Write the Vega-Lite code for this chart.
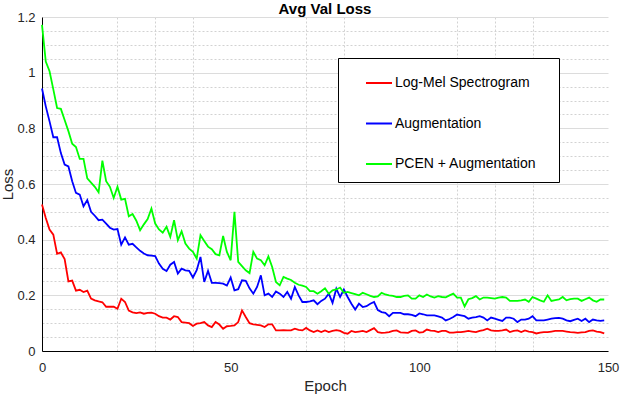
{
  "$schema": "https://vega.github.io/schema/vega-lite/v6.json",
  "width": 566,
  "height": 334,
  "autosize": {"type": "none"},
  "padding": {"left": 42, "top": 17, "right": 12, "bottom": 43},
  "background": "white",
  "config": {"view": {"stroke": null}, "font": "Liberation Sans"},
  "title": {"text": "Avg Val Loss", "font": "Liberation Sans", "fontSize": 15, "fontWeight": "bold", "color": "black", "baseline": "alphabetic", "offset": -17.5, "anchor": "middle", "frame": "group"},
  "data": {"values": [
    {"epoch":0,"r":0.526,"b":0.943,"g":1.172},
    {"epoch":1,"r":0.478,"b":0.879,"g":1.04},
    {"epoch":2,"r":0.436,"b":0.825,"g":1.005},
    {"epoch":3,"r":0.418,"b":0.768,"g":0.94},
    {"epoch":4,"r":0.349,"b":0.768,"g":0.873},
    {"epoch":5,"r":0.354,"b":0.711,"g":0.87},
    {"epoch":6,"r":0.33,"b":0.67,"g":0.83},
    {"epoch":7,"r":0.25,"b":0.663,"g":0.79},
    {"epoch":8,"r":0.253,"b":0.61,"g":0.745},
    {"epoch":9,"r":0.217,"b":0.568,"g":0.733},
    {"epoch":10,"r":0.22,"b":0.562,"g":0.69},
    {"epoch":11,"r":0.212,"b":0.52,"g":0.69},
    {"epoch":12,"r":0.217,"b":0.542,"g":0.62},
    {"epoch":13,"r":0.188,"b":0.5,"g":0.605},
    {"epoch":14,"r":0.182,"b":0.486,"g":0.59},
    {"epoch":15,"r":0.178,"b":0.47,"g":0.57},
    {"epoch":16,"r":0.175,"b":0.472,"g":0.684},
    {"epoch":17,"r":0.159,"b":0.458,"g":0.61},
    {"epoch":18,"r":0.159,"b":0.443,"g":0.59},
    {"epoch":19,"r":0.159,"b":0.436,"g":0.55},
    {"epoch":20,"r":0.152,"b":0.438,"g":0.59},
    {"epoch":21,"r":0.188,"b":0.382,"g":0.544},
    {"epoch":22,"r":0.176,"b":0.408,"g":0.547},
    {"epoch":23,"r":0.145,"b":0.382,"g":0.484},
    {"epoch":24,"r":0.139,"b":0.385,"g":0.492},
    {"epoch":25,"r":0.136,"b":0.372,"g":0.468},
    {"epoch":26,"r":0.139,"b":0.36,"g":0.434},
    {"epoch":27,"r":0.134,"b":0.35,"g":0.455},
    {"epoch":28,"r":0.137,"b":0.344,"g":0.474},
    {"epoch":29,"r":0.138,"b":0.343,"g":0.512},
    {"epoch":30,"r":0.134,"b":0.341,"g":0.458},
    {"epoch":31,"r":0.125,"b":0.314,"g":0.437},
    {"epoch":32,"r":0.12,"b":0.295,"g":0.425},
    {"epoch":33,"r":0.12,"b":0.287,"g":0.446},
    {"epoch":34,"r":0.113,"b":0.31,"g":0.41},
    {"epoch":35,"r":0.125,"b":0.32,"g":0.47},
    {"epoch":36,"r":0.122,"b":0.278,"g":0.398},
    {"epoch":37,"r":0.104,"b":0.296,"g":0.43},
    {"epoch":38,"r":0.102,"b":0.29,"g":0.386},
    {"epoch":39,"r":0.1,"b":0.288,"g":0.368},
    {"epoch":40,"r":0.09,"b":0.264,"g":0.356},
    {"epoch":41,"r":0.098,"b":0.29,"g":0.332},
    {"epoch":42,"r":0.1,"b":0.338,"g":0.416},
    {"epoch":43,"r":0.104,"b":0.248,"g":0.395},
    {"epoch":44,"r":0.092,"b":0.288,"g":0.375},
    {"epoch":45,"r":0.086,"b":0.245,"g":0.366},
    {"epoch":46,"r":0.104,"b":0.245,"g":0.348},
    {"epoch":47,"r":0.095,"b":0.244,"g":0.344},
    {"epoch":48,"r":0.08,"b":0.242,"g":0.413},
    {"epoch":49,"r":0.089,"b":0.235,"g":0.356},
    {"epoch":50,"r":0.09,"b":0.264,"g":0.326},
    {"epoch":51,"r":0.092,"b":0.218,"g":0.5},
    {"epoch":52,"r":0.104,"b":0.222,"g":0.32},
    {"epoch":53,"r":0.146,"b":0.254,"g":0.305},
    {"epoch":54,"r":0.122,"b":0.252,"g":0.29},
    {"epoch":55,"r":0.1,"b":0.225,"g":0.28},
    {"epoch":56,"r":0.096,"b":0.206,"g":0.356},
    {"epoch":57,"r":0.094,"b":0.23,"g":0.332},
    {"epoch":58,"r":0.092,"b":0.272,"g":0.326},
    {"epoch":59,"r":0.086,"b":0.2,"g":0.308},
    {"epoch":60,"r":0.096,"b":0.206,"g":0.34},
    {"epoch":61,"r":0.096,"b":0.194,"g":0.302},
    {"epoch":62,"r":0.074,"b":0.214,"g":0.248},
    {"epoch":63,"r":0.074,"b":0.206,"g":0.236},
    {"epoch":64,"r":0.075,"b":0.194,"g":0.266},
    {"epoch":65,"r":0.074,"b":0.212,"g":0.26},
    {"epoch":66,"r":0.074,"b":0.188,"g":0.255},
    {"epoch":67,"r":0.08,"b":0.23,"g":0.245},
    {"epoch":68,"r":0.076,"b":0.2,"g":0.238},
    {"epoch":69,"r":0.074,"b":0.176,"g":0.235},
    {"epoch":70,"r":0.083,"b":0.176,"g":0.23},
    {"epoch":71,"r":0.074,"b":0.178,"g":0.215},
    {"epoch":72,"r":0.068,"b":0.182,"g":0.215},
    {"epoch":73,"r":0.074,"b":0.168,"g":0.206},
    {"epoch":74,"r":0.068,"b":0.18,"g":0.215},
    {"epoch":75,"r":0.074,"b":0.188,"g":0.225},
    {"epoch":76,"r":0.068,"b":0.206,"g":0.206},
    {"epoch":77,"r":0.072,"b":0.173,"g":0.218},
    {"epoch":78,"r":0.075,"b":0.224,"g":0.221},
    {"epoch":79,"r":0.072,"b":0.194,"g":0.228},
    {"epoch":80,"r":0.065,"b":0.221,"g":0.209},
    {"epoch":81,"r":0.062,"b":0.194,"g":0.212},
    {"epoch":82,"r":0.072,"b":0.17,"g":0.208},
    {"epoch":83,"r":0.068,"b":0.149,"g":0.204},
    {"epoch":84,"r":0.07,"b":0.17,"g":0.2},
    {"epoch":85,"r":0.072,"b":0.158,"g":0.209},
    {"epoch":86,"r":0.068,"b":0.161,"g":0.204},
    {"epoch":87,"r":0.075,"b":0.17,"g":0.198},
    {"epoch":88,"r":0.082,"b":0.176,"g":0.194},
    {"epoch":89,"r":0.068,"b":0.147,"g":0.196},
    {"epoch":90,"r":0.065,"b":0.14,"g":0.209},
    {"epoch":91,"r":0.066,"b":0.137,"g":0.203},
    {"epoch":92,"r":0.068,"b":0.125,"g":0.2},
    {"epoch":93,"r":0.072,"b":0.137,"g":0.198},
    {"epoch":94,"r":0.074,"b":0.137,"g":0.194},
    {"epoch":95,"r":0.067,"b":0.137,"g":0.194},
    {"epoch":96,"r":0.066,"b":0.132,"g":0.198},
    {"epoch":97,"r":0.065,"b":0.132,"g":0.2},
    {"epoch":98,"r":0.072,"b":0.13,"g":0.188},
    {"epoch":99,"r":0.074,"b":0.125,"g":0.188},
    {"epoch":100,"r":0.066,"b":0.135,"g":0.2},
    {"epoch":101,"r":0.068,"b":0.132,"g":0.194},
    {"epoch":102,"r":0.077,"b":0.128,"g":0.203},
    {"epoch":103,"r":0.073,"b":0.128,"g":0.196},
    {"epoch":104,"r":0.072,"b":0.128,"g":0.192},
    {"epoch":105,"r":0.068,"b":0.124,"g":0.197},
    {"epoch":106,"r":0.072,"b":0.12,"g":0.194},
    {"epoch":107,"r":0.072,"b":0.11,"g":0.193},
    {"epoch":108,"r":0.066,"b":0.115,"g":0.2},
    {"epoch":109,"r":0.066,"b":0.122,"g":0.206},
    {"epoch":110,"r":0.068,"b":0.131,"g":0.192},
    {"epoch":111,"r":0.068,"b":0.128,"g":0.192},
    {"epoch":112,"r":0.07,"b":0.125,"g":0.16},
    {"epoch":113,"r":0.072,"b":0.116,"g":0.186},
    {"epoch":114,"r":0.07,"b":0.12,"g":0.19},
    {"epoch":115,"r":0.068,"b":0.122,"g":0.197},
    {"epoch":116,"r":0.072,"b":0.125,"g":0.185},
    {"epoch":117,"r":0.075,"b":0.12,"g":0.192},
    {"epoch":118,"r":0.08,"b":0.11,"g":0.192},
    {"epoch":119,"r":0.074,"b":0.12,"g":0.19},
    {"epoch":120,"r":0.072,"b":0.116,"g":0.188},
    {"epoch":121,"r":0.072,"b":0.112,"g":0.192},
    {"epoch":122,"r":0.074,"b":0.108,"g":0.194},
    {"epoch":123,"r":0.077,"b":0.12,"g":0.192},
    {"epoch":124,"r":0.068,"b":0.12,"g":0.18},
    {"epoch":125,"r":0.072,"b":0.116,"g":0.18},
    {"epoch":126,"r":0.074,"b":0.104,"g":0.18},
    {"epoch":127,"r":0.068,"b":0.113,"g":0.182},
    {"epoch":128,"r":0.074,"b":0.113,"g":0.185},
    {"epoch":129,"r":0.07,"b":0.116,"g":0.177},
    {"epoch":130,"r":0.068,"b":0.125,"g":0.194},
    {"epoch":131,"r":0.063,"b":0.11,"g":0.188},
    {"epoch":132,"r":0.066,"b":0.11,"g":0.182},
    {"epoch":133,"r":0.068,"b":0.11,"g":0.177},
    {"epoch":134,"r":0.068,"b":0.113,"g":0.2},
    {"epoch":135,"r":0.07,"b":0.116,"g":0.18},
    {"epoch":136,"r":0.072,"b":0.118,"g":0.183},
    {"epoch":137,"r":0.072,"b":0.119,"g":0.185},
    {"epoch":138,"r":0.072,"b":0.116,"g":0.194},
    {"epoch":139,"r":0.07,"b":0.11,"g":0.182},
    {"epoch":140,"r":0.068,"b":0.107,"g":0.186},
    {"epoch":141,"r":0.067,"b":0.112,"g":0.188},
    {"epoch":142,"r":0.065,"b":0.116,"g":0.188},
    {"epoch":143,"r":0.067,"b":0.108,"g":0.18},
    {"epoch":144,"r":0.068,"b":0.116,"g":0.186},
    {"epoch":145,"r":0.072,"b":0.104,"g":0.192},
    {"epoch":146,"r":0.074,"b":0.113,"g":0.182},
    {"epoch":147,"r":0.07,"b":0.11,"g":0.177},
    {"epoch":148,"r":0.068,"b":0.108,"g":0.185},
    {"epoch":149,"r":0.063,"b":0.11,"g":0.185}
  ]},
  "transform": [
    {"fold": ["r", "b", "g"], "as": ["key", "loss"]},
    {"lookup": "key", "from": {"data": {"values": [
      {"key": "r", "series": "Log-Mel Spectrogram"},
      {"key": "b", "series": "Augmentation"},
      {"key": "g", "series": "PCEN + Augmentation"}
    ]}, "key": "key", "fields": ["series"]}}
  ],
  "mark": {"type": "line", "strokeWidth": 1.8},
  "encoding": {
    "x": {
      "field": "epoch", "type": "quantitative",
      "scale": {"domain": [0, 150], "nice": false, "zero": false},
      "axis": {
        "title": "Epoch",
        "values": [0, 20, 30, 40, 50, 70, 80, 100, 110, 120, 130, 150],
        "labelExpr": "datum.value % 50 === 0 ? datum.label : ''",
        "labelOverlap": false, "labelFlush": false,
        "grid": true, "gridColor": "#d2d2d2", "gridDash": [2, 2],
        "gridOpacity": {"condition": {"test": "datum.value % 50 === 0", "value": 0}, "value": 1},
        "ticks": false, "domainColor": "black", "domainWidth": 1,
        "labelFont": "Liberation Sans", "labelFontSize": 13, "labelColor": "#262626", "labelPadding": 10,
        "titleFont": "Liberation Sans", "titleFontSize": 15, "titleFontWeight": "normal", "titleColor": "#262626",
        "titleBaseline": "alphabetic", "titleY": 39
      }
    },
    "y": {
      "field": "loss", "type": "quantitative",
      "scale": {"domain": [0, 1.2], "nice": false},
      "axis": {
        "title": "Loss",
        "values": [0, 0.05, 0.1, 0.15, 0.2, 0.25, 0.3, 0.35, 0.4, 0.45, 0.5, 0.55, 0.6, 0.65, 0.7, 0.75, 0.8, 0.85, 0.9, 0.95, 1, 1.05, 1.1, 1.15, 1.2],
        "labelExpr": "abs(datum.value*5 - round(datum.value*5)) < 0.001 ? toString(round(datum.value*10)/10) : ''",
        "labelOverlap": false, "labelFlush": false,
        "grid": true,
        "gridColor": {"condition": {"test": "abs(datum.value*5 - round(datum.value*5)) < 0.001", "value": "#dcdcdc"}, "value": "#d2d2d2"},
        "gridDash": {"condition": {"test": "abs(datum.value*5 - round(datum.value*5)) < 0.001", "value": []}, "value": [2, 2]},
        "ticks": false, "domainColor": "black", "domainWidth": 1,
        "labelFont": "Liberation Sans", "labelFontSize": 13, "labelColor": "#262626", "labelPadding": 7,
        "titleFont": "Liberation Sans", "titleFontSize": 15, "titleFontWeight": "normal", "titleColor": "#262626",
        "titleBaseline": "alphabetic", "titleX": -30, "titleY": 167
      }
    },
    "color": {
      "field": "series", "type": "nominal",
      "scale": {"domain": ["Log-Mel Spectrogram", "Augmentation", "PCEN + Augmentation"], "range": ["#ff0000", "#0000ff", "#00ff00"]},
      "legend": {
        "title": "\u00a0", "titleOrient": "right", "titlePadding": 12, "titleFontSize": 2,
        "orient": "none", "legendX": 296, "legendY": 41,
        "symbolType": "stroke", "symbolSize": 676, "symbolStrokeWidth": 2,
        "strokeColor": "black", "fillColor": "white", "padding": 11,
        "symbolOffset": 16, "labelOffset": 2, "rowPadding": 19.5,
        "labelFont": "Liberation Sans", "labelFontSize": 14, "labelColor": "black", "labelLimit": 300
      }
    }
  }
}
